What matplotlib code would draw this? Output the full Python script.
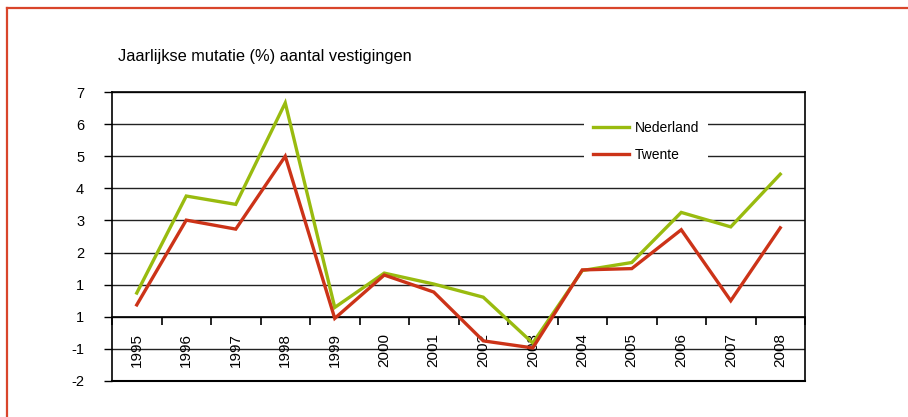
import matplotlib
matplotlib.use("Agg")
import matplotlib.pyplot as plt
from matplotlib.lines import Line2D

plt.rcParams['font.family'] = ['Liberation Sans', 'DejaVu Sans']

years = ['1995', '1996', '1997', '1998', '1999', '2000', '2001',
         '2002', '2003', '2004', '2005', '2006', '2007', '2008']
nederland = [0.74, 3.76, 3.50, 6.66, 0.29, 1.36, 1.02, 0.61, -0.82, 1.44, 1.69, 3.25, 2.80, 4.44]
twente = [0.37, 3.01, 2.73, 5.00, -0.05, 1.30, 0.77, -0.75, -0.97, 1.46, 1.50, 2.71, 0.50, 2.77]
ytick_values = [7, 6, 5, 4, 3, 2, 1, 0, -1, -2]
ytick_labels = ['7', '6', '5', '4', '3', '2', '1', '1', '-1', '-2']
title = 'Jaarlijkse mutatie (%) aantal vestigingen'

green = '#99BB0F'
red = '#CC3318'

W, H = 908, 417
fig = plt.figure(figsize=(W / 100, H / 100), dpi=100)

# outer red frame (top and left visible)
fig.add_artist(Line2D([7 / W, 1.0], [1 - 7.5 / H, 1 - 7.5 / H], transform=fig.transFigure,
                      color='#D9452B', lw=1.6))
fig.add_artist(Line2D([7 / W, 7 / W], [0, 1 - 7.5 / H], transform=fig.transFigure,
                      color='#D9452B', lw=1.6))

x0, x1 = 112 / W, 805 / W
y_top, y_bot = 1 - 92 / H, 1 - 381 / H
ax = fig.add_axes([x0, y_bot, x1 - x0, y_top - y_bot])

x = list(range(len(years)))
ax.plot(x, nederland, color=green, lw=2.4, label='Nederland', zorder=3, solid_joinstyle='miter')
ax.plot(x, twente, color=red, lw=2.4, label='Twente', zorder=4, solid_joinstyle='miter')

ax.set_xlim(-0.5, len(years) - 0.5)
ax.set_ylim(-2, 7)

for v in ytick_values:
    ax.axhline(v, color='#222222', lw=1.0, zorder=1)

for s in ['left', 'right', 'top']:
    ax.spines[s].set_color('black')
    ax.spines[s].set_linewidth(1.2)
ax.spines['bottom'].set_position(('data', 0))
ax.spines['bottom'].set_color('black')
ax.spines['bottom'].set_linewidth(1.2)
ax.axhline(-2, color='black', lw=1.5, zorder=2, clip_on=False)

ax.set_yticks(ytick_values)
ax.set_yticklabels(ytick_labels)
ax.tick_params(axis='y', direction='out', length=6, width=1, pad=14, labelsize=10.5)

ax.set_xticks([i - 0.5 for i in range(len(years) + 1)])
ax.set_xticklabels([])
ax.tick_params(axis='x', which='major', direction='out', length=6, width=1.2)
ax.set_xticks(x, minor=True)
ax.set_xticklabels(years, minor=True, rotation=90)
ax.tick_params(axis='x', which='minor', length=0, pad=11.5, labelsize=11)
for lab in ax.get_xticklabels(minor=True):
    lab.set_verticalalignment('top')

leg = ax.legend(loc='center', bbox_to_anchor=(646 / W, 1 - 141.5 / H),
                bbox_transform=fig.transFigure, frameon=True, fancybox=False,
                facecolor='white', edgecolor='none', framealpha=1,
                fontsize=10, handlelength=2.6, handletextpad=0.45,
                labelspacing=0.95, borderpad=0.6, borderaxespad=0)
leg.set_zorder(10)

fig.text(118 / W, 1 - 56 / H, title, fontsize=11.8, ha='left', va='center')

fig.savefig('out.png', dpi=100)
